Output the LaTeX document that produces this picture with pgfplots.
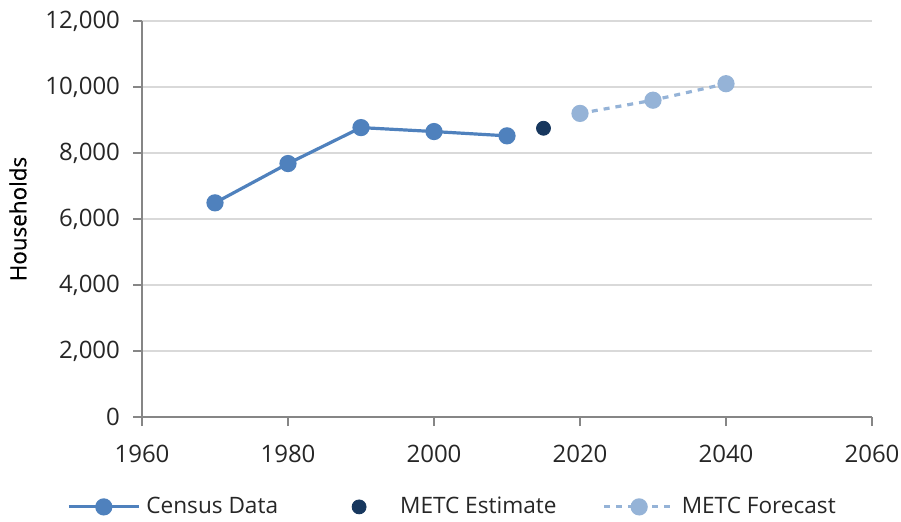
\documentclass[border=0pt]{standalone}
\usepackage{pgfplots}
\pgfplotsset{compat=1.18}
\usepackage{fontspec}
\setmainfont{Open Sans}
\newfontfamily\labelfont[FakeBold=0.5]{Open Sans}
\definecolor{census}{HTML}{4F81BD}
\definecolor{estim}{HTML}{17375E}
\definecolor{fcst}{HTML}{95B3D7}
\definecolor{gridc}{HTML}{D9D9D9}
\definecolor{axc}{HTML}{868686}
\definecolor{txt}{HTML}{262626}
\pgfplotsset{
  lineleg/.style={legend image code/.code={\draw[##1, mark repeat=2, mark phase=2] plot coordinates {(0pt,0pt) (17.5pt,0pt) (35pt,0pt)};}},
  dotleg/.style={legend image code/.code={\path[draw=none, fill=none] (0pt,0pt) -- (35pt,0pt); \draw[##1] plot coordinates {(17.5pt,0pt)};}},
}
\begin{document}
\begin{tikzpicture}
\useasboundingbox (0,0) rectangle (450.5pt,260.5pt);
\begin{axis}[
  at={(71pt,52pt)}, anchor=south west,
  scale only axis, width=365pt, height=198pt,
  xmin=1960, xmax=2060, ymin=0, ymax=12000,
  xtick={1960,1980,...,2060}, ytick={0,2000,...,12000},
  scaled y ticks=false,
  axis x line*=bottom, axis y line*=left,
  axis line style={axc, line width=0.6pt},
  major tick style={axc, line width=0.6pt},
  tick align=outside, major tick length=4.5pt,
  ymajorgrids, grid style={gridc, line width=0.8pt},
  /pgf/number format/1000 sep={,},
  /pgf/number format/assume math mode=true,
  xticklabel style={/pgf/number format/1000 sep={}, yshift=-6pt},
  yticklabel style={xshift=-3pt},
  ticklabel style={font=\fontsize{12}{14}\selectfont, text=txt},
  ylabel={Households},
  every axis y label/.style={at={(axis description cs:-0.17,0.5)}, rotate=90, anchor=center,
    font=\labelfont\fontsize{11.2}{13}\selectfont, text=black},
  legend columns=3,
  legend cell align=left,
  legend style={draw=none, fill=none, at={(0.4267,-0.227)}, anchor=center,
    font=\fontsize{11.3}{13}\selectfont, text=txt,
    /tikz/every odd column/.append style={column sep=1pt},
    /tikz/every even column/.append style={column sep=21pt}},
  clip=false,
]
\addplot[census, line width=1.6pt, mark=*, mark size=3.5pt, mark options={solid, fill=census, draw=census}, lineleg]
coordinates {(1970,6490) (1980,7680) (1990,8770) (2000,8650) (2010,8520)};
\addlegendentry{Census Data}
\addplot[estim, only marks, mark=*, mark size=3.5pt, mark options={fill=estim, draw=estim}, dotleg]
coordinates {(2015,8750)};
\addlegendentry{METC Estimate}
\addplot[fcst, line width=1.6pt, dashed, mark=*, mark size=3.5pt, mark options={solid, fill=fcst, draw=fcst}, lineleg]
coordinates {(2020,9200) (2030,9600) (2040,10100)};
\addlegendentry{METC Forecast}
\end{axis}
\end{tikzpicture}
\end{document}
